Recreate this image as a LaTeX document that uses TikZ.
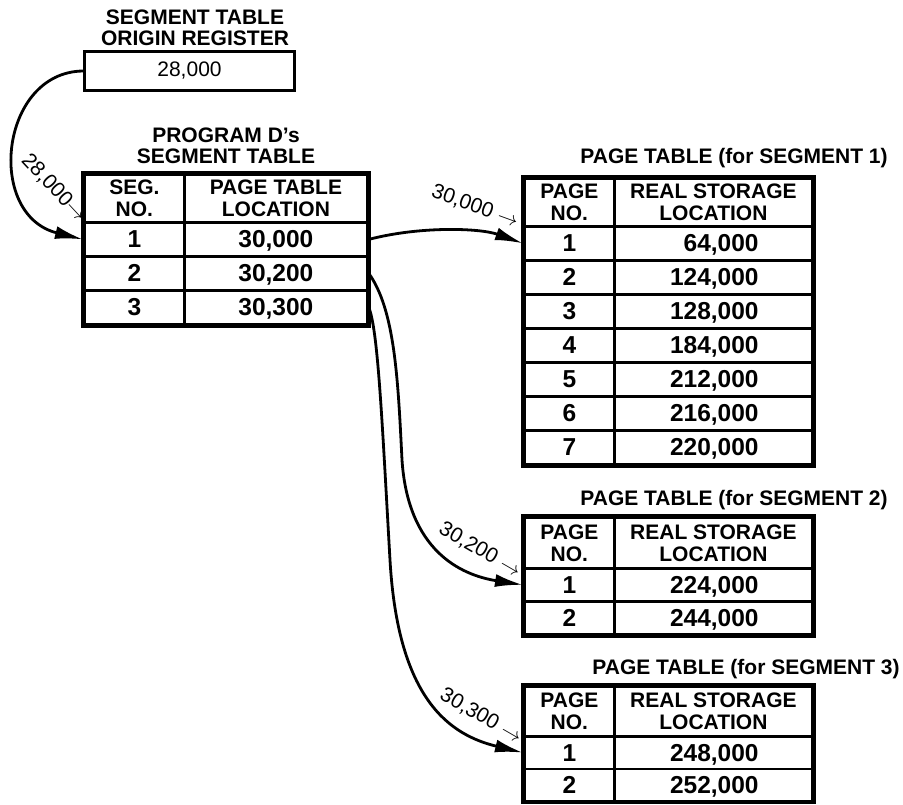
\documentclass[tikz,border=0pt]{standalone}
\usepackage{fontspec}
\setmainfont{Liberation Sans}
\usetikzlibrary{arrows.meta}
\newcommand\segrow[4]{% #1 row, #2 top y, #3 seg no, #4 value
  \node[cell, minimum width=100pt, minimum height=34pt] (s-r#1a) at (83,#2) {};
  \node[cell, minimum width=183pt, minimum height=34pt] (s-r#1b) at (183,#2) {};
  \node[val] (s-n#1) at (s-r#1a.center) {#3};
  \node[val] (s-v#1) at (s-r#1b.center) {#4};
}
\newcommand\pgrow[5]{% #1 prefix, #2 row, #3 top y, #4 height, #5 value
  \node[cell, minimum width=90pt, minimum height=#4] (#1-r#2a) at (523,#3) {};
  \node[cell, minimum width=198pt, minimum height=#4] (#1-r#2b) at (613,#3) {};
  \node[val] (#1-n#2) at (#1-r#2a.center) {#2};
  \node[val, anchor=east] (#1-v#2) at ([xshift=-55pt]#1-r#2b.east) {#5};
}
\newcommand\pghead[3]{% #1 prefix, #2 top y, #3 height
  \node[cell, minimum width=90pt, minimum height=#3] (#1-ha) at (523,#2) {PAGE\\NO.};
  \node[cell, minimum width=198pt, minimum height=#3] (#1-hb) at (613,#2) {REAL STORAGE\\LOCATION};
}
\newcommand\smallarr{{\fontsize{20}{20}\selectfont$\rightarrow$}}
\begin{document}
\begin{tikzpicture}[x=1pt,y=-1pt,
  cell/.style={draw, line width=2.8pt, inner sep=0pt, anchor=north west,
    font=\bfseries\fontsize{21}{22}\selectfont, align=center},
  val/.style={font=\bfseries\fontsize{24.5}{26}\selectfont, inner sep=0pt, text depth=0pt},
  ttl/.style={font=\bfseries\fontsize{21}{21.5}\selectfont, align=center, inner sep=0pt},
  frame/.style={line width=3.4pt},
  conn/.style={line width=2.8pt, -{Latex[length=28pt,width=13pt]}},
  lbl/.style={font=\fontsize{21}{22}\selectfont, inner sep=0pt},
]
\useasboundingbox[fill=white] (0,0) rectangle (903,804);

% Segment table origin register
\node[ttl] (regttl) at (195,28) {SEGMENT TABLE\\ORIGIN REGISTER};
\node[draw, line width=3pt, minimum width=210pt, minimum height=39pt, inner sep=0pt,
  anchor=north west, font=\fontsize{21}{22}\selectfont] (reg) at (83,50) {28,000};

% Program D's segment table
\node[ttl] (segttl) at (226,146) {PROGRAM D's\\SEGMENT TABLE};
\node[cell, minimum width=100pt, minimum height=48pt] (s-ha) at (83,173) {SEG.\\NO.};
\node[cell, minimum width=183pt, minimum height=48pt] (s-hb) at (183,173) {PAGE TABLE\\LOCATION};
\segrow{1}{221}{1}{30,000}
\segrow{2}{255}{2}{30,200}
\segrow{3}{289}{3}{30,300}
\draw[frame] (s-ha.north west) rectangle (s-r3b.south east);

% Page table for segment 1
\node[ttl] (p1ttl) at (734,158) {PAGE TABLE (for SEGMENT 1)};
\pghead{p1}{177}{48pt}
\pgrow{p1}{1}{225}{34pt}{64,000}
\pgrow{p1}{2}{259}{34pt}{124,000}
\pgrow{p1}{3}{293}{34pt}{128,000}
\pgrow{p1}{4}{327}{34pt}{184,000}
\pgrow{p1}{5}{361}{34pt}{212,000}
\pgrow{p1}{6}{395}{34pt}{216,000}
\pgrow{p1}{7}{429}{34pt}{220,000}
\draw[frame] (p1-ha.north west) rectangle (p1-r7b.south east);

% Page table for segment 2
\node[ttl] (p2ttl) at (734,500) {PAGE TABLE (for SEGMENT 2)};
\pghead{p2}{516}{51pt}
\pgrow{p2}{1}{567}{33pt}{224,000}
\pgrow{p2}{2}{600}{33pt}{244,000}
\draw[frame] (p2-ha.north west) rectangle (p2-r2b.south east);

% Page table for segment 3
\node[ttl] (p3ttl) at (746,669) {PAGE TABLE (for SEGMENT 3)};
\pghead{p3}{685}{50pt}
\pgrow{p3}{1}{735}{32.5pt}{248,000}
\pgrow{p3}{2}{767.5}{32pt}{252,000}
\draw[frame] (p3-ha.north west) rectangle (p3-r2b.south east);

% Connectors
\draw[conn] (reg.west) .. controls (0,72) and (-15,215) .. (s-r1a.west);
\draw[conn] (s-r1b.east) .. controls (420,226) and (480,228) .. (p1-r1a.west);
\draw[conn] (s-r2b.east) .. controls (395,310) and (398,380) .. (402,460)
  .. controls (408,550) and (460,575) .. (p2-r1a.west);
\draw[conn] (s-r3b.east) .. controls (378,330) and (382,420) .. (390,560)
  .. controls (398,700) and (450,735) .. (p3-r1a.west);

% Address labels
\node[lbl, rotate=-47] (l0) at (54,188) {28,000\smallarr};
\node[lbl, rotate=-20] (l1) at (475,206) {30,000 \smallarr};
\node[lbl, rotate=-30] (l2) at (480,550) {30,200 \smallarr};
\node[lbl, rotate=-30] (l3) at (481,716) {30,300 \smallarr};
\end{tikzpicture}
\end{document}
